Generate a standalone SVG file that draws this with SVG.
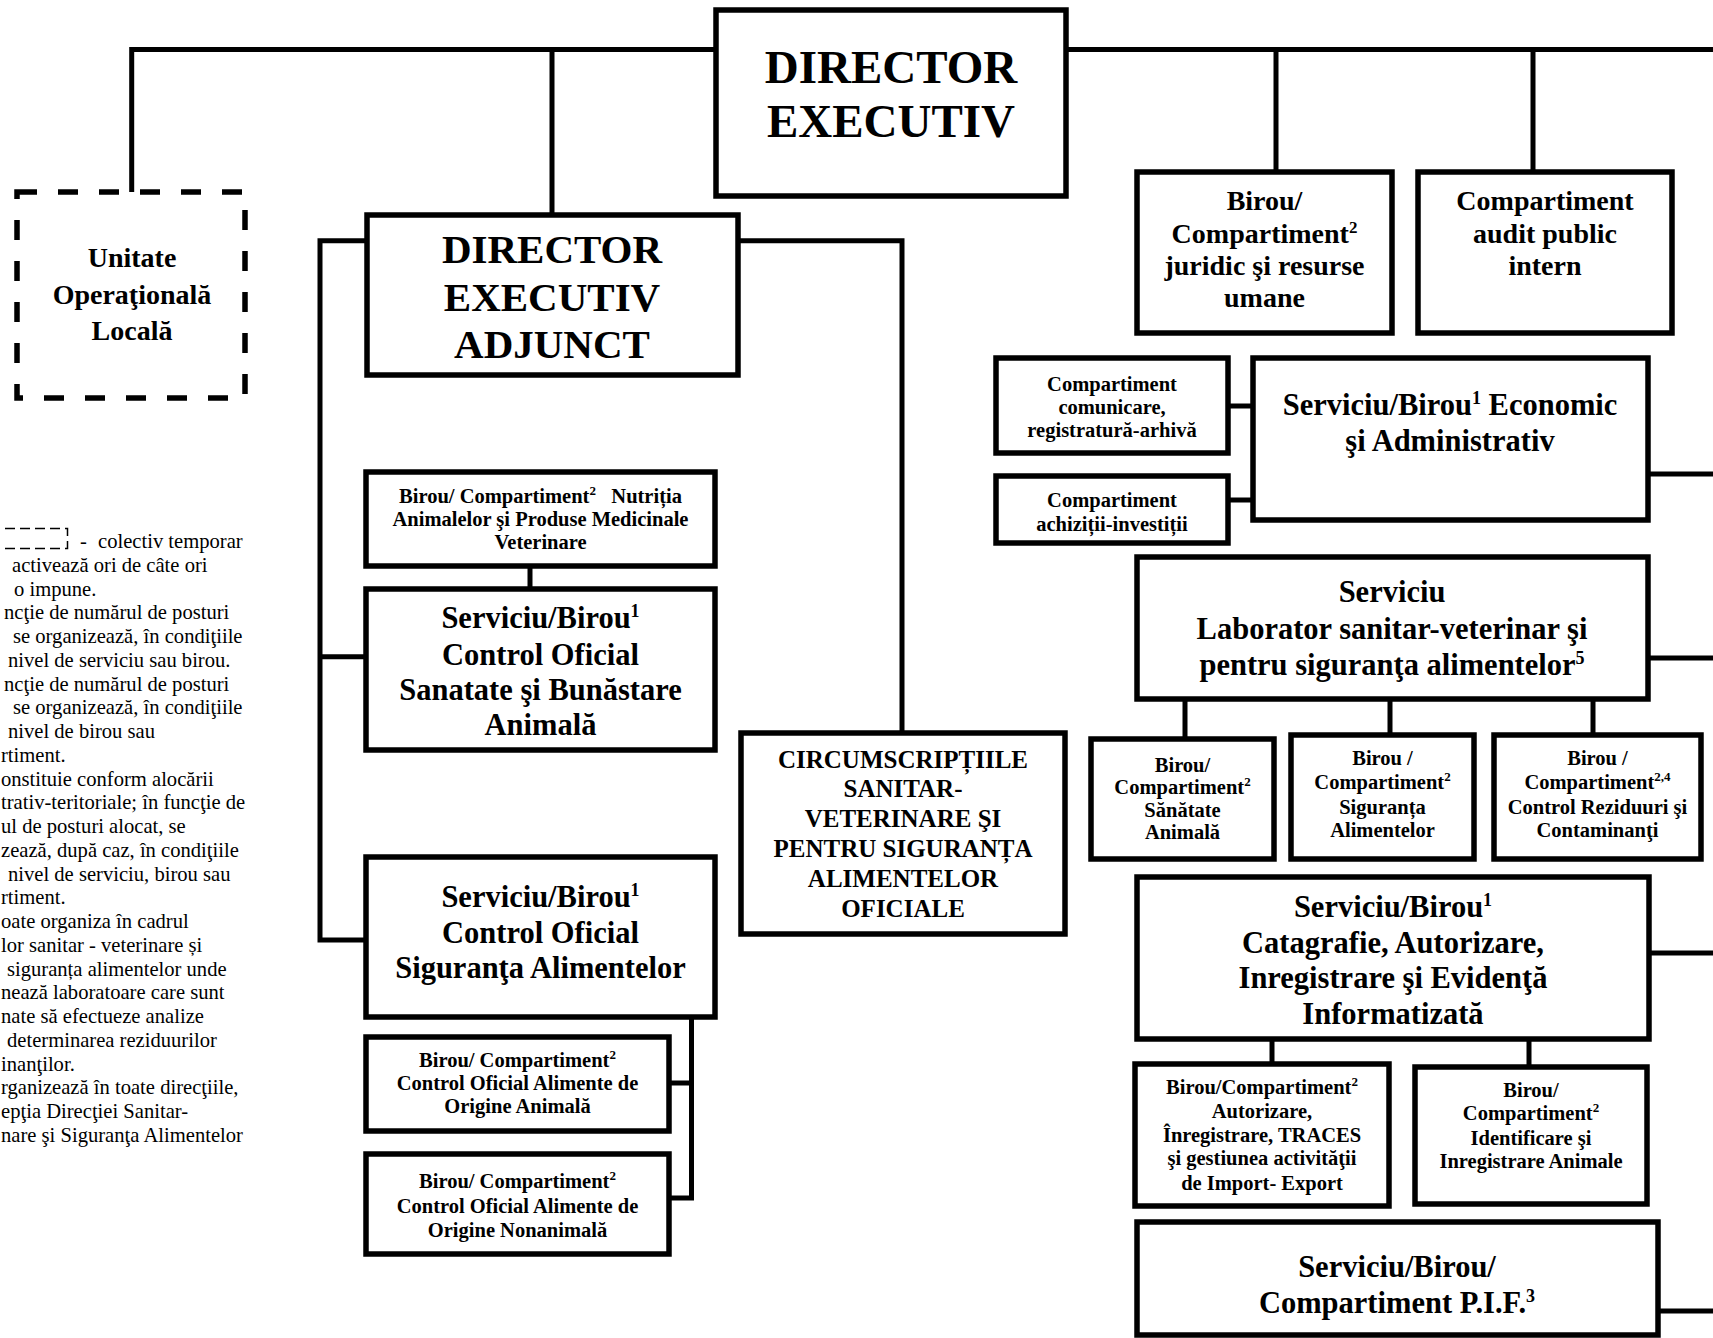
<svg xmlns="http://www.w3.org/2000/svg" width="1713" height="1338" viewBox="0 0 1713 1338">
<style>
.b{fill:#fff;stroke:#000;stroke-width:5.5}
.d{fill:none;stroke:#000;stroke-width:5.5;stroke-dasharray:20 21}
.c{fill:none;stroke:#000;stroke-width:5;stroke-linejoin:miter}
.t{font-family:"Liberation Serif","Times New Roman",serif;font-weight:bold;text-anchor:middle;fill:#000}
.s47{font-size:47px}.s41{font-size:41px}.s30{font-size:30.5px}.s28{font-size:28px}.s25{font-size:25px}.s20{font-size:20.5px}
.lg{font-family:"Liberation Serif","Times New Roman",serif;font-size:20.6px;fill:#000}
</style>
<rect width="1713" height="1338" fill="#fff"/>
<g id="connectors">
<path class="c" d="M131.7 192V49.5H716M552 49.5V215M1066 49.5H1713M1276 49.5V172M1533 49.5V172"/>
<path class="c" d="M366 240.7H320V940H366M320 656.7H366"/>
<path class="c" d="M737.5 240.7H902V733"/>
<path class="c" d="M530 566V589"/>
<path class="c" d="M691.5 1017V1198H669M691.5 1083H669"/>
<path class="c" d="M1228 406H1253M1228 500H1253M1648 474H1713M1648 658H1713"/>
<path class="c" d="M1185 699V739M1390 699V735M1593 699V735"/>
<path class="c" d="M1649 953H1713M1272 1039V1064M1529 1039V1067M1658 1311H1713"/>
</g>
<g id="director">
<rect class="b" x="716" y="10" width="350" height="186"/>
<text class="t s47" x="891" y="83">DIRECTOR</text>
<text class="t s47" x="891" y="137">EXECUTIV</text>
</g>
<g id="unitate">
<rect class="d" x="17" y="192" width="228" height="206"/>
<text class="t s28" x="132" y="267">Unitate</text>
<text class="t s28" x="132" y="304">Operaţională</text>
<text class="t s28" x="132" y="340">Locală</text>
</g>
<g id="adjunct">
<rect class="b" x="367" y="215" width="371" height="160"/>
<text class="t s41" x="552" y="263">DIRECTOR</text>
<text class="t s41" x="552" y="311">EXECUTIV</text>
<text class="t s41" x="552" y="358">ADJUNCT</text>
</g>
<g id="juridic">
<rect class="b" x="1137" y="172" width="255" height="161"/>
<text class="t s28" x="1264.5" y="210">Birou/</text>
<text class="t s28" x="1264.5" y="243">Compartiment<tspan font-size="17" dy="-10">2</tspan></text>
<text class="t s28" x="1264.5" y="275">juridic şi resurse</text>
<text class="t s28" x="1264.5" y="307">umane</text>
</g>
<g id="audit">
<rect class="b" x="1418" y="172" width="254" height="161"/>
<text class="t s28" x="1545" y="210">Compartiment</text>
<text class="t s28" x="1545" y="243">audit public</text>
<text class="t s28" x="1545" y="275">intern</text>
</g>
<g id="comunicare">
<rect class="b" x="996" y="358" width="232" height="95"/>
<text class="t s20" x="1112" y="391">Compartiment</text>
<text class="t s20" x="1112" y="414">comunicare,</text>
<text class="t s20" x="1112" y="437">registratură-arhivă</text>
</g>
<g id="achizitii">
<rect class="b" x="996" y="476" width="232" height="67"/>
<text class="t s20" x="1112" y="507">Compartiment</text>
<text class="t s20" x="1112" y="531">achiziții-investiții</text>
</g>
<g id="economic">
<rect class="b" x="1253" y="358" width="395" height="162"/>
<text class="t s30" x="1450" y="415">Serviciu/Birou<tspan font-size="18" dy="-11">1</tspan><tspan dy="11"> Economic</tspan></text>
<text class="t s30" x="1450" y="451">şi Administrativ</text>
</g>
<g id="laborator">
<rect class="b" x="1137" y="557" width="511" height="142"/>
<text class="t s30" x="1392" y="602">Serviciu</text>
<text class="t s30" x="1392" y="639">Laborator sanitar-veterinar şi</text>
<text class="t s30" x="1392" y="675">pentru siguranţa alimentelor<tspan font-size="18" dy="-11">5</tspan></text>
</g>
<g id="sanatate-animala">
<rect class="b" x="1091" y="739" width="183" height="120"/>
<text class="t s20" x="1182.5" y="772">Birou/</text>
<text class="t s20" x="1182.5" y="794">Compartiment<tspan font-size="13" dy="-8">2</tspan></text>
<text class="t s20" x="1182.5" y="817">Sănătate</text>
<text class="t s20" x="1182.5" y="839">Animală</text>
</g>
<g id="siguranta-alimentelor">
<rect class="b" x="1291" y="735" width="183" height="124"/>
<text class="t s20" x="1382.5" y="765">Birou /</text>
<text class="t s20" x="1382.5" y="789">Compartiment<tspan font-size="13" dy="-8">2</tspan></text>
<text class="t s20" x="1382.5" y="814">Siguranța</text>
<text class="t s20" x="1382.5" y="837">Alimentelor</text>
</g>
<g id="control-reziduuri">
<rect class="b" x="1494" y="735" width="207" height="124"/>
<text class="t s20" x="1597.5" y="765">Birou /</text>
<text class="t s20" x="1597.5" y="789">Compartiment<tspan font-size="13" dy="-8">2,4</tspan></text>
<text class="t s20" x="1597.5" y="814">Control Reziduuri şi</text>
<text class="t s20" x="1597.5" y="837">Contaminanţi</text>
</g>
<g id="catagrafie">
<rect class="b" x="1137" y="877" width="512" height="162"/>
<text class="t s30" x="1393" y="917">Serviciu/Birou<tspan font-size="18" dy="-11">1</tspan></text>
<text class="t s30" x="1393" y="953">Catagrafie, Autorizare,</text>
<text class="t s30" x="1393" y="988">Inregistrare şi Evidenţă</text>
<text class="t s30" x="1393" y="1024">Informatizată</text>
</g>
<g id="autorizare">
<rect class="b" x="1135" y="1064" width="254" height="142"/>
<text class="t s20" x="1262" y="1094">Birou/Compartiment<tspan font-size="13" dy="-8">2</tspan></text>
<text class="t s20" x="1262" y="1118">Autorizare,</text>
<text class="t s20" x="1262" y="1142">Înregistrare, TRACES</text>
<text class="t s20" x="1262" y="1165">şi gestiunea activităţii</text>
<text class="t s20" x="1262" y="1190">de Import- Export</text>
</g>
<g id="identificare">
<rect class="b" x="1415" y="1067" width="232" height="137"/>
<text class="t s20" x="1531" y="1097">Birou/</text>
<text class="t s20" x="1531" y="1120">Compartiment<tspan font-size="13" dy="-8">2</tspan></text>
<text class="t s20" x="1531" y="1145">Identificare şi</text>
<text class="t s20" x="1531" y="1168">Inregistrare Animale</text>
</g>
<g id="pif">
<rect class="b" x="1137" y="1222" width="521" height="113"/>
<text class="t s30" x="1397" y="1277">Serviciu/Birou/</text>
<text class="t s30" x="1397" y="1313">Compartiment P.I.F.<tspan font-size="18" dy="-11">3</tspan></text>
</g>
<g id="nutritia">
<rect class="b" x="366" y="472" width="349" height="94"/>
<text class="t s20" x="540.5" y="503">Birou/ Compartiment<tspan font-size="13" dy="-8">2</tspan><tspan dy="8">&#160;&#160; Nutriția</tspan></text>
<text class="t s20" x="540.5" y="526">Animalelor şi Produse Medicinale</text>
<text class="t s20" x="540.5" y="549">Veterinare</text>
</g>
<g id="sanatate-bunastare">
<rect class="b" x="366" y="589" width="349" height="161"/>
<text class="t s30" x="540.5" y="628">Serviciu/Birou<tspan font-size="18" dy="-11">1</tspan></text>
<text class="t s30" x="540.5" y="665">Control Oficial</text>
<text class="t s30" x="540.5" y="700">Sanatate şi Bunăstare</text>
<text class="t s30" x="540.5" y="735">Animală</text>
</g>
<g id="circumscriptii">
<rect class="b" x="741" y="733" width="324" height="201"/>
<text class="t s25" x="903" y="768">CIRCUMSCRIPȚIILE</text>
<text class="t s25" x="903" y="797">SANITAR-</text>
<text class="t s25" x="903" y="827">VETERINARE ŞI</text>
<text class="t s25" x="903" y="857">PENTRU SIGURANȚA</text>
<text class="t s25" x="903" y="887">ALIMENTELOR</text>
<text class="t s25" x="903" y="917">OFICIALE</text>
</g>
<g id="siguranta-control">
<rect class="b" x="366" y="857" width="349" height="160"/>
<text class="t s30" x="540.5" y="907">Serviciu/Birou<tspan font-size="18" dy="-11">1</tspan></text>
<text class="t s30" x="540.5" y="943">Control Oficial</text>
<text class="t s30" x="540.5" y="978">Siguranţa Alimentelor</text>
</g>
<g id="origine-animala">
<rect class="b" x="366" y="1037" width="303" height="94"/>
<text class="t s20" x="517.5" y="1067">Birou/ Compartiment<tspan font-size="13" dy="-8">2</tspan></text>
<text class="t s20" x="517.5" y="1090">Control Oficial Alimente de</text>
<text class="t s20" x="517.5" y="1113">Origine Animală</text>
</g>
<g id="origine-nonanimala">
<rect class="b" x="366" y="1154" width="303" height="100"/>
<text class="t s20" x="517.5" y="1188">Birou/ Compartiment<tspan font-size="13" dy="-8">2</tspan></text>
<text class="t s20" x="517.5" y="1213">Control Oficial Alimente de</text>
<text class="t s20" x="517.5" y="1237">Origine Nonanimală</text>
</g>
<g id="legend">
<path d="M-10 528.5H67.5V548.5H-10" fill="none" stroke="#000" stroke-width="1.5" stroke-dasharray="10 5"/>
<text class="lg" x="80" y="548">-<tspan x="98">colectiv temporar</tspan></text>
<text class="lg" x="12" y="572">activează ori de câte ori</text>
<text class="lg" x="14" y="596">o impune.</text>
<text class="lg" x="4" y="619">ncţie de numărul de posturi</text>
<text class="lg" x="13" y="643">se organizează, în condiţiile</text>
<text class="lg" x="8" y="667">nivel de serviciu sau birou.</text>
<text class="lg" x="4" y="691">ncţie de numărul de posturi</text>
<text class="lg" x="13" y="714">se organizează, în condiţiile</text>
<text class="lg" x="8" y="738">nivel de birou sau</text>
<text class="lg" x="1" y="762">rtiment.</text>
<text class="lg" x="1" y="786">onstituie conform alocării</text>
<text class="lg" x="1" y="809">trativ-teritoriale; în funcţie de</text>
<text class="lg" x="1" y="833">ul de posturi alocat, se</text>
<text class="lg" x="1" y="857">zează, după caz, în condiţiile</text>
<text class="lg" x="8" y="881">nivel de serviciu, birou sau</text>
<text class="lg" x="1" y="904">rtiment.</text>
<text class="lg" x="1" y="928">oate organiza în cadrul</text>
<text class="lg" x="1" y="952">lor sanitar - veterinare și</text>
<text class="lg" x="7" y="976">siguranța alimentelor unde</text>
<text class="lg" x="1" y="999">nează laboratoare care sunt</text>
<text class="lg" x="1" y="1023">nate să efectueze analize</text>
<text class="lg" x="7" y="1047">determinarea reziduurilor</text>
<text class="lg" x="1" y="1071">inanţilor.</text>
<text class="lg" x="1" y="1094">rganizează în toate direcţiile,</text>
<text class="lg" x="1" y="1118">epţia Direcţiei Sanitar-</text>
<text class="lg" x="1" y="1142">nare şi Siguranţa Alimentelor</text>
</g>
</svg>
